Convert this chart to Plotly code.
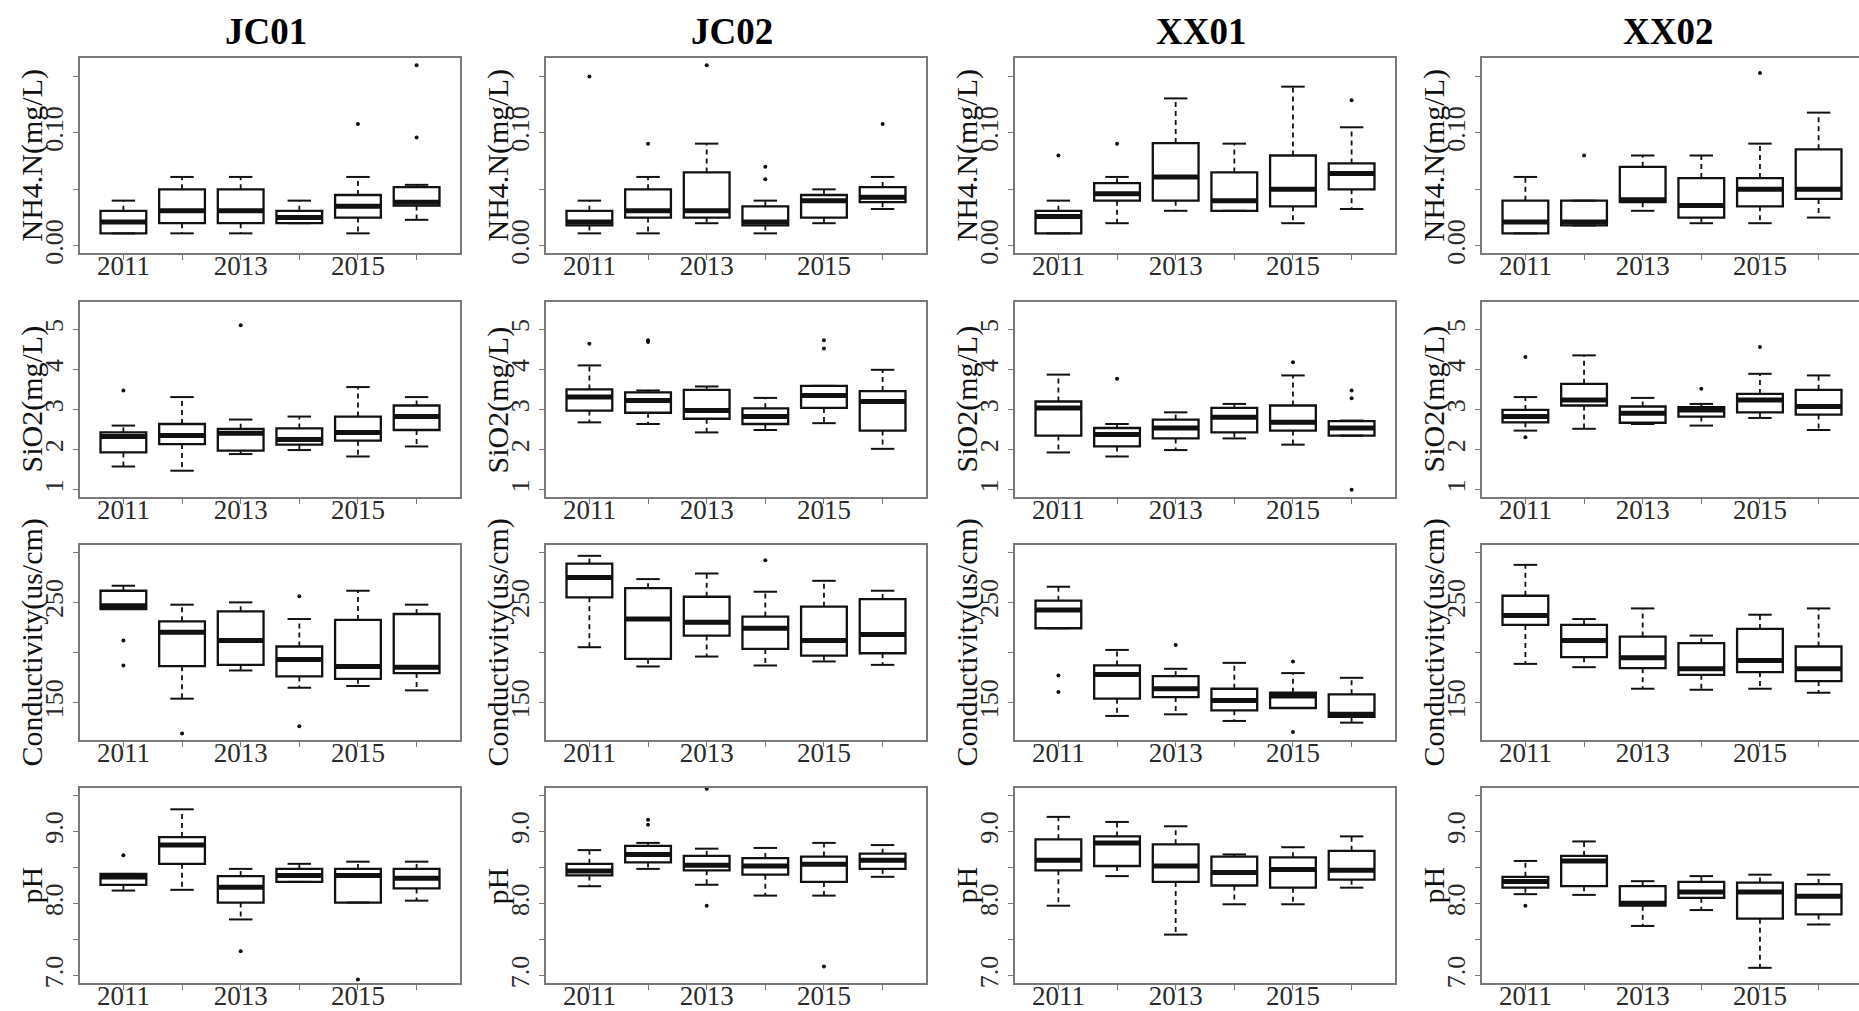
import plotly.graph_objects as go

# ---------------------------------------------------------------- data
years = [2011, 2012, 2013, 2014, 2015, 2016]
year_labels = ["2011", "", "2013", "", "2015", ""]
sites = ["JC01", "JC02", "XX01", "XX02"]
variables = ["NH4.N(mg/L)", "SiO2(mg/L)", "Conductivity(us/cm)", "pH"]

# each row: lower whisker, Q1, median, Q3, upper whisker (one row per year)
nh4_jc01 = [[0.011, 0.011, 0.021, 0.031, 0.040],
            [0.011, 0.020, 0.031, 0.050, 0.061],
            [0.011, 0.020, 0.031, 0.050, 0.061],
            [0.020, 0.020, 0.025, 0.031, 0.040],
            [0.011, 0.025, 0.035, 0.045, 0.061],
            [0.023, 0.0356, 0.0386, 0.052, 0.054]]
nh4_jc02 = [[0.011, 0.018, 0.021, 0.031, 0.040],
            [0.011, 0.025, 0.031, 0.050, 0.061],
            [0.020, 0.025, 0.031, 0.065, 0.0905],
            [0.011, 0.018, 0.021, 0.035, 0.040],
            [0.020, 0.025, 0.040, 0.045, 0.050],
            [0.0326, 0.0386, 0.043, 0.052, 0.061]]
nh4_xx01 = [[0.011, 0.011, 0.026, 0.031, 0.040],
            [0.020, 0.040, 0.046, 0.0555, 0.061],
            [0.031, 0.040, 0.061, 0.091, 0.1306],
            [0.031, 0.031, 0.040, 0.065, 0.0905],
            [0.020, 0.035, 0.050, 0.080, 0.141],
            [0.0326, 0.050, 0.064, 0.073, 0.105]]
nh4_xx02 = [[0.011, 0.011, 0.021, 0.040, 0.061],
            [0.018, 0.018, 0.021, 0.040, 0.040],
            [0.031, 0.0386, 0.0407, 0.070, 0.080],
            [0.020, 0.025, 0.0356, 0.060, 0.080],
            [0.020, 0.035, 0.050, 0.060, 0.0905],
            [0.025, 0.0415, 0.050, 0.0855, 0.118]]

sio2_jc01 = [[1.58, 1.93, 2.33, 2.43, 2.60],
             [1.475, 2.14, 2.35, 2.64, 3.31],
             [1.89, 1.975, 2.41, 2.52, 2.75],
             [1.99, 2.125, 2.25, 2.53, 2.825],
             [1.83, 2.225, 2.43, 2.825, 3.56],
             [2.08, 2.49, 2.825, 3.10, 3.31]]
sio2_jc02 = [[2.68, 2.975, 3.31, 3.50, 4.10],
             [2.64, 2.92, 3.225, 3.43, 3.475],
             [2.43, 2.77, 2.975, 3.49, 3.575],
             [2.49, 2.64, 2.825, 3.03, 3.29],
             [2.66, 3.04, 3.35, 3.59, 3.59],
             [2.02, 2.475, 3.20, 3.46, 3.99]]
sio2_xx01 = [[1.93, 2.35, 3.04, 3.20, 3.87],
             [1.83, 2.08, 2.375, 2.54, 2.64],
             [1.99, 2.28, 2.54, 2.75, 2.93],
             [2.28, 2.43, 2.81, 3.04, 3.14],
             [2.125, 2.475, 2.68, 3.10, 3.85],
             [2.35, 2.35, 2.54, 2.71, 2.725]]
sio2_xx02 = [[2.475, 2.68, 2.825, 2.99, 3.31],
             [2.52, 3.10, 3.24, 3.64, 4.35],
             [2.64, 2.67, 2.91, 3.075, 3.29],
             [2.60, 2.825, 2.99, 3.06, 3.14],
             [2.79, 2.93, 3.24, 3.39, 3.89],
             [2.49, 2.875, 3.075, 3.49, 3.85]]

cond_jc01 = [[243.4, 243.4, 246.7, 261.6, 266.6],
             [154.0, 186.4, 220.2, 231.1, 247.7],
             [182.1, 187.7, 211.9, 241.1, 250.0],
             [164.9, 176.2, 193.0, 206.0, 233.4],
             [166.6, 173.8, 186.1, 232.5, 261.6],
             [162.3, 179.5, 185.4, 238.4, 247.7]]
cond_jc02 = [[205.3, 255.0, 274.8, 288.7, 296.4],
             [186.1, 193.7, 233.4, 264.2, 273.2],
             [196.0, 216.9, 230.1, 255.6, 278.8],
             [187.1, 203.6, 224.2, 235.8, 260.6],
             [191.1, 197.0, 211.9, 245.7, 271.5],
             [187.7, 199.3, 217.9, 253.3, 261.6]]
cond_xx01 = [[224.2, 224.2, 242.4, 251.7, 265.6],
             [136.8, 154.0, 178.1, 187.1, 202.6],
             [138.4, 155.6, 163.9, 176.5, 183.8],
             [131.8, 142.4, 152.3, 163.9, 189.7],
             [144.7, 144.7, 156.6, 159.9, 179.5],
             [130.1, 135.8, 138.4, 158.3, 174.8]]
cond_xx02 = [[188.7, 227.5, 236.8, 256.6, 287.4],
             [185.4, 195.4, 211.9, 227.5, 233.4],
             [163.9, 184.4, 194.7, 215.9, 244.0],
             [162.9, 177.8, 183.8, 209.3, 216.9],
             [163.9, 180.5, 192.0, 223.5, 237.7],
             [159.9, 171.5, 183.8, 206.0, 244.0]]

ph_jc01 = [[8.18, 8.26, 8.366, 8.41, 8.41],
           [8.19, 8.55, 8.81, 8.92, 9.305],
           [7.78, 8.014, 8.225, 8.38, 8.48],
           [8.30, 8.30, 8.39, 8.48, 8.55],
           [8.014, 8.014, 8.39, 8.48, 8.58],
           [8.04, 8.21, 8.35, 8.48, 8.58]]
ph_jc02 = [[8.24, 8.39, 8.45, 8.55, 8.74],
           [8.48, 8.57, 8.68, 8.80, 8.84],
           [8.26, 8.46, 8.53, 8.66, 8.76],
           [8.11, 8.40, 8.52, 8.63, 8.77],
           [8.11, 8.30, 8.545, 8.65, 8.84],
           [8.37, 8.48, 8.60, 8.69, 8.81]]
ph_xx01 = [[7.97, 8.46, 8.60, 8.89, 9.20],
           [8.38, 8.52, 8.84, 8.93, 9.13],
           [7.57, 8.30, 8.52, 8.82, 9.07],
           [7.99, 8.25, 8.43, 8.65, 8.68],
           [7.99, 8.22, 8.47, 8.64, 8.78],
           [8.22, 8.33, 8.46, 8.73, 8.93]]
ph_xx02 = [[8.13, 8.22, 8.305, 8.37, 8.59],
           [8.12, 8.24, 8.59, 8.66, 8.86],
           [7.69, 7.97, 8.005, 8.24, 8.31],
           [7.91, 8.08, 8.16, 8.30, 8.38],
           [7.11, 7.79, 8.16, 8.29, 8.40],
           [7.71, 7.85, 8.10, 8.27, 8.40]]

# outlying samples: (year, value)
nh4_jc01_out = [(2015, 0.108), (2016, 0.096), (2016, 0.160)]
nh4_jc02_out = [(2011, 0.150), (2012, 0.0905), (2013, 0.160), (2014, 0.059), (2014, 0.070), (2016, 0.108)]
nh4_xx01_out = [(2011, 0.080), (2012, 0.0905), (2016, 0.129)]
nh4_xx02_out = [(2012, 0.080), (2015, 0.153)]
sio2_jc01_out = [(2011, 3.475), (2013, 5.10)]
sio2_jc02_out = [(2011, 4.64), (2012, 4.68), (2012, 4.725), (2015, 4.52), (2015, 4.725)]
sio2_xx01_out = [(2012, 3.77), (2015, 4.18), (2016, 3.28), (2016, 3.475), (2016, 1.0)]
sio2_xx02_out = [(2011, 4.31), (2011, 2.31), (2014, 3.52), (2015, 4.56)]
cond_jc01_out = [(2011, 211.9), (2011, 187.1), (2012, 119.2), (2014, 256.0), (2014, 126.5)]
cond_jc02_out = [(2014, 292.1)]
cond_xx01_out = [(2011, 177.2), (2011, 160.6), (2013, 207.6), (2015, 191.1), (2015, 120.9)]
cond_xx02_out = []
ph_jc01_out = [(2011, 8.67), (2013, 7.34), (2015, 6.95)]
ph_jc02_out = [(2012, 9.09), (2012, 9.16), (2013, 7.97), (2013, 9.59), (2015, 7.13)]
ph_xx01_out = []
ph_xx02_out = [(2011, 7.97)]

grid = [
    [(nh4_jc01, nh4_jc01_out), (nh4_jc02, nh4_jc02_out), (nh4_xx01, nh4_xx01_out), (nh4_xx02, nh4_xx02_out)],
    [(sio2_jc01, sio2_jc01_out), (sio2_jc02, sio2_jc02_out), (sio2_xx01, sio2_xx01_out), (sio2_xx02, sio2_xx02_out)],
    [(cond_jc01, cond_jc01_out), (cond_jc02, cond_jc02_out), (cond_xx01, cond_xx01_out), (cond_xx02, cond_xx02_out)],
    [(ph_jc01, ph_jc01_out), (ph_jc02, ph_jc02_out), (ph_xx01, ph_xx01_out), (ph_xx02, ph_xx02_out)],
]

# y limits (before the usual 4 % padding) and tick marks per variable
y_limits = [(0.0, 0.16), (1.0, 5.5), (120.0, 300.0), (7.0, 9.5)]
y_ticks = [[0.0, 0.05, 0.10, 0.15], [1, 2, 3, 4, 5], [150, 200, 250, 300], [7.0, 7.5, 8.0, 8.5, 9.0, 9.5]]
y_ticktext = [["0.00", "", "0.10", ""], ["1", "2", "3", "4", "5"], ["150", "", "250", ""],
              ["7.0", "", "8.0", "", "9.0", ""]]

# ---------------------------------------------------------------- layout geometry (px)
W, H = 1859, 1011
col_left = [80, 546, 1015, 1482]
row_top = [58, 302, 545, 788]
PW, PH = 380, 195
X0, X1 = 2010.26, 2016.74
x_per_px = (X1 - X0) / PW
BOX_HALF = 0.39
CAP_HALF = 0.2

SERIF = "Liberation Serif"
INK = "#111111"
FRAME = "#7a7a7a"

fig = go.Figure()
layout = dict(
    width=W, height=H, margin=dict(l=0, r=0, t=0, b=0, autoexpand=False),
    paper_bgcolor="white", plot_bgcolor="white", showlegend=False,
    annotations=[],
)

for r in range(4):
    lo_lim, hi_lim = y_limits[r]
    pad = (hi_lim - lo_lim) * 0.04
    for c in range(4):
        k = r * 4 + c + 1
        xa = "x" if k == 1 else f"x{k}"
        ya = "y" if k == 1 else f"y{k}"
        left = col_left[c]
        right = min(left + PW, W)
        top = row_top[r]
        bottom = top + PH

        layout["xaxis" if k == 1 else f"xaxis{k}"] = dict(
            domain=[left / W, right / W], anchor=ya,
            range=[X0, X0 + (right - left) * x_per_px],
            tickmode="array", tickvals=years, ticktext=year_labels,
            ticks="outside", ticklen=5, tickwidth=1, tickcolor=FRAME,
            tickfont=dict(family=SERIF, size=27, color="#2a2a2a"),
            showline=True, linecolor=FRAME, linewidth=1.5, mirror=True,
            showgrid=False, zeroline=False, fixedrange=True,
            automargin=False, ticklabelstandoff=-17,
        )
        layout["yaxis" if k == 1 else f"yaxis{k}"] = dict(
            domain=[1 - bottom / H, 1 - top / H], anchor=xa,
            range=[lo_lim - pad, hi_lim + pad],
            tickmode="array", tickvals=y_ticks[r], ticktext=y_ticktext[r],
            tickangle=-90,
            ticks="outside", ticklen=5, tickwidth=1, tickcolor=FRAME,
            tickfont=dict(family=SERIF, size=26, color="#2a2a2a"),
            showline=True, linecolor=FRAME, linewidth=1.5, mirror=(c < 3),
            showgrid=False, zeroline=False, fixedrange=True,
            automargin=False,
        )

        stats, outliers = grid[r][c]
        lo = [s[0] for s in stats]
        q1 = [s[1] for s in stats]
        med = [s[2] for s in stats]
        q3 = [s[3] for s in stats]
        hi = [s[4] for s in stats]

        # dashed whiskers
        wx, wy = [], []
        for yr, a, b, d, e in zip(years, lo, q1, q3, hi):
            wx += [yr, yr, None, yr, yr, None]
            wy += [d, e, None, b, a, None]
        fig.add_trace(go.Scatter(x=wx, y=wy, mode="lines", xaxis=xa, yaxis=ya,
                                 line=dict(color=INK, width=1.8, dash="5px,4px"),
                                 hoverinfo="skip"))

        # boxes (Q1-Q3)
        fig.add_trace(go.Box(x=years, q1=q1, median=med, q3=q3,
                             lowerfence=q1, upperfence=q3,
                             width=2 * BOX_HALF, fillcolor="white",
                             line=dict(color=INK, width=2.3),
                             boxpoints=False, xaxis=xa, yaxis=ya, hoverinfo="skip"))

        # whisker staples
        cx, cy = [], []
        for yr, a, e in zip(years, lo, hi):
            cx += [yr - CAP_HALF, yr + CAP_HALF, None, yr - CAP_HALF, yr + CAP_HALF, None]
            cy += [e, e, None, a, a, None]
        fig.add_trace(go.Scatter(x=cx, y=cy, mode="lines", xaxis=xa, yaxis=ya,
                                 line=dict(color=INK, width=2), hoverinfo="skip"))

        # heavy median bars
        mx, my = [], []
        for yr, m in zip(years, med):
            mx += [yr - BOX_HALF, yr + BOX_HALF, None]
            my += [m, m, None]
        fig.add_trace(go.Scatter(x=mx, y=my, mode="lines", xaxis=xa, yaxis=ya,
                                 line=dict(color=INK, width=5), hoverinfo="skip"))

        # outliers
        if outliers:
            fig.add_trace(go.Scatter(x=[o[0] for o in outliers], y=[o[1] for o in outliers],
                                     mode="markers", xaxis=xa, yaxis=ya,
                                     marker=dict(color=INK, size=4, symbol="circle"),
                                     hoverinfo="skip"))

        # y-axis title, rotated, left of the tick labels
        layout["annotations"].append(dict(
            text=variables[r], xref="paper", yref="paper",
            x=(left - 49) / W, y=1 - (top + PH / 2) / H,
            xanchor="center", yanchor="middle", textangle=-90, showarrow=False,
            font=dict(family=SERIF, size=30, color=INK)))

# site titles above the first row
for c, name in enumerate(sites):
    layout["annotations"].append(dict(
        text=f"<b>{name}</b>", xref="paper", yref="paper",
        x=(col_left[c] + PW / 2 - 4) / W, y=1 - 31 / H,
        xanchor="center", yanchor="middle", showarrow=False,
        font=dict(family=SERIF, size=37, color="#000000")))

fig.update_layout(**layout)
fig.write_html("out.html")
